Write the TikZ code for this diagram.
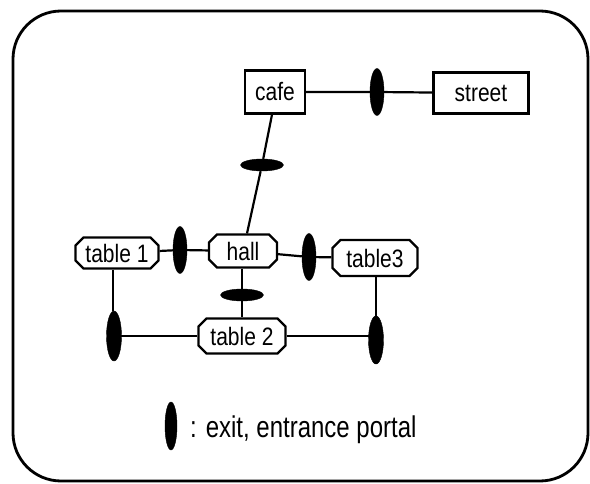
\documentclass[tikz,border=0pt]{standalone}
\usepackage{fontspec}
\usepackage{graphicx}
\setmainfont{Liberation Sans}
\usetikzlibrary{shapes.misc,shapes.geometric}
\newcommand{\tallt}[1]{\scalebox{1}[1.2]{#1}}
\tikzset{
  room/.style={draw, line width=2.2pt, rectangle, inner sep=0pt,
    font=\fontsize{21pt}{21pt}\selectfont},
  tablenode/.style={draw, line width=2.2pt, chamfered rectangle,
    chamfered rectangle xsep=4pt, chamfered rectangle ysep=4pt,
    inner sep=0pt, font=\fontsize{21pt}{21pt}\selectfont},
  portalv/.style={ellipse, fill=black, draw=black, inner sep=0pt,
    minimum width=14pt, minimum height=47pt},
  portalh/.style={ellipse, fill=black, draw=black, inner sep=0pt,
    minimum width=43pt, minimum height=12pt},
  link/.style={line width=2.2pt}
}
\begin{document}
\begin{tikzpicture}[x=1pt, y=-1pt]
  \useasboundingbox (0,0) rectangle (590,484);
  % outer frame
  \draw[line width=2.8pt, rounded corners=48pt] (13,11) rectangle (588,481);

  % rooms
  \node[room, minimum width=60pt, minimum height=43pt] (cafe) at (275,92) {\tallt{cafe}};
  \node[room, minimum width=95pt, minimum height=41pt] (street) at (481,93) {\tallt{street}};
  \node[tablenode, minimum width=83pt, minimum height=31pt] (t1) at (117,253) {\tallt{table 1}};
  \node[tablenode, minimum width=68pt, minimum height=33pt] (hall) at (243,251) {\tallt{hall}};
  \node[tablenode, minimum width=85pt, minimum height=36pt] (t3) at (375,258) {\tallt{table3}};
  \node[tablenode, minimum width=87pt, minimum height=35pt] (t2) at (242,336) {\tallt{table 2}};

  % portals
  \node[portalv] (p1) at (377,92) {};
  \node[portalh] (p2) at (262,165) {};
  \node[portalv] (p3) at (180,250) {};
  \node[portalv] (p4) at (309,257) {};
  \node[portalh] (p5) at (242,295) {};
  \node[portalv, minimum width=15pt, minimum height=50pt] (p6) at (114,336) {};
  \node[portalv, minimum width=15pt, minimum height=48pt] (p7) at (376,340) {};

  % connections
  \draw[link] (cafe) -- (p1) -- (street);
  \draw[link] ([xshift=-3pt]cafe.south) -- (p2) -- ([xshift=4pt]hall.north);
  \draw[link] (t1) -- (p3) -- (hall);
  \draw[link] (hall) -- (p4) -- (t3);
  \draw[link] (hall.south -| p5) -- (p5) -- (t2.north -| p5);
  \draw[link] ([xshift=-4pt]t1.south) -- ([xshift=-4pt]t1.south |- p6.north);
  \draw[link] (t2.west) -- (t2.west -| p6);
  \draw[link] (t3.south -| p7) -- (p7);
  \draw[link] (t2.east) -- (t2.east -| p7);

  % legend
  \node[portalv, minimum width=12pt, minimum height=48pt] (key) at (171,426) {};
  \node[anchor=west, inner sep=0pt, font=\fontsize{24pt}{24pt}\selectfont] (keytext) at (190,430)
    {\scalebox{1}[1.25]{: exit, entrance portal}};
\end{tikzpicture}
\end{document}
